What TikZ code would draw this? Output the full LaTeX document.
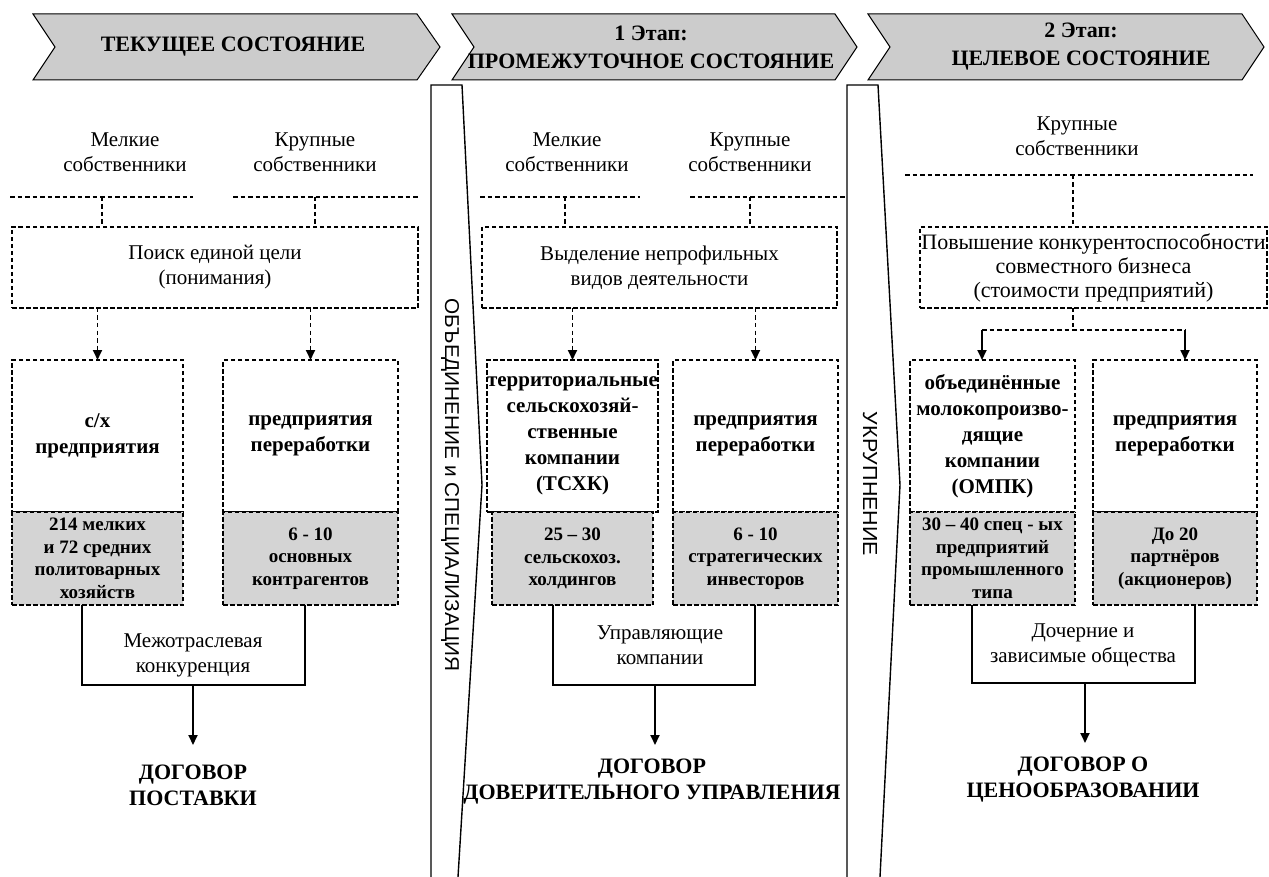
\documentclass[tikz,border=0pt]{standalone}
\usepackage{fontspec}
\setmainfont{Liberation Serif}
\setsansfont{Liberation Sans}
\usetikzlibrary{arrows.meta,calc}
\tikzset{
  every node/.style={outer sep=0pt, inner sep=0pt},
  dbox/.style={draw, dash pattern=on 4.5pt off 2.5pt, line width=1.8pt, align=center,
    font=\bfseries\fontsize{21}{26}\selectfont},
  gbox/.style={dbox, fill=black!17, font=\bfseries\fontsize{19}{22.5}\selectfont},
  tbox/.style={draw, dash pattern=on 4.5pt off 2.5pt, line width=1.6pt, align=center,
    font=\fontsize{21}{25}\selectfont},
  lbl/.style={align=center, font=\fontsize{21}{25}\selectfont},
  big/.style={align=center, font=\bfseries\fontsize{22}{26}\selectfont},
  head/.style={align=center, font=\bfseries\fontsize{22}{28}\selectfont},
  dline/.style={dash pattern=on 4.5pt off 3pt, line width=1.2pt},
  darr/.style={dash pattern=on 4.5pt off 3pt, line width=1.8pt, -{Triangle[length=10pt,width=9pt]}},
  sarr/.style={line width=1.8pt, -{Triangle[length=10pt,width=9pt]}},
  sline/.style={line width=1.4pt},
  chev/.style={draw, fill=black!20, line width=1pt},
  band/.style={line width=1.4pt},
}
\begin{document}
\begin{tikzpicture}[x=1pt,y=-1pt]
\useasboundingbox (0,0) rectangle (1269,877);
\fill[white] (0,0) rectangle (1269,877);

% ---------- header chevrons ----------
\path[chev] (33,14) -- (417,14) -- (440,47) -- (417,80) -- (33,80) -- (55,47) -- cycle;
\node[head] (h1) at (233,47) {ТЕКУЩЕЕ СОСТОЯНИЕ};
\path[chev] (452,14) -- (835,14) -- (857,47) -- (835,80) -- (452,80) -- (474,47) -- cycle;
\node[head] (h2) at (651,47) {1 Этап:\\ПРОМЕЖУТОЧНОЕ СОСТОЯНИЕ};
\path[chev] (868,14) -- (1242,14) -- (1264,47) -- (1242,80) -- (868,80) -- (890,47) -- cycle;
\node[head] (h3) at (1081,47) {2 Этап:\\ЦЕЛЕВОЕ СОСТОЯНИЕ};

% ---------- separator bands ----------
\draw[band] (431,877) -- (431,85) -- (462,85) -- (482,485) -- (458,877);
\node[rotate=-90] (s1) at (450,485) {\resizebox{373pt}{14pt}{\sffamily ОБЪЕДИНЕНИЕ и СПЕЦИАЛИЗАЦИЯ}};
\draw[band] (847,877) -- (847,85) -- (878,85) -- (900,485) -- (880,877);
\node[rotate=-90] (s2) at (870,484) {\resizebox{144pt}{14pt}{\sffamily УКРУПНЕНИЕ}};

% ================= column 1 =================
\node[lbl] (t1a) at (125,152.5) {Мелкие\\собственники};
\node[lbl] (t1b) at (315,152.5) {Крупные\\собственники};
\coordinate (l1a) at (10,197); \coordinate (l1b) at (193,197);
\coordinate (l1c) at (233,197); \coordinate (l1d) at (420,197);
\draw[dline] (l1a) -- (l1b);
\draw[dline] (l1c) -- (l1d);
\node[tbox, minimum width=406, minimum height=81] (p1) at (215,267.5) {Поиск единой цели\\(понимания)};
\coordinate (k1a) at (102,197); \coordinate (k1b) at (315,197);
\draw[dline] (k1a) -- (k1a |- p1.north);
\draw[dline] (k1b) -- (k1b |- p1.north);
\node[dbox, minimum width=171, minimum height=152] (b1) at (97.5,436) {с/х\\предприятия};
\node[dbox, minimum width=175, minimum height=152] (b2) at (310.5,436) {предприятия\\переработки};
\draw[darr] (p1.south -| b1.north) -- (b1.north);
\draw[darr] (p1.south -| b2.north) -- (b2.north);
\node[gbox, minimum width=171, minimum height=93, anchor=north] (g1) at (b1.south) {214 мелких\\и 72 средних\\политоварных\\хозяйств};
\node[gbox, minimum width=175, minimum height=93, anchor=north] (g2) at (b2.south) {6 - 10\\основных\\контрагентов};
\coordinate (o1a) at (82,685); \coordinate (o1b) at (305,685); \coordinate (o1c) at (193,685);
\draw[sline] (g1.south -| o1a) -- (o1a) -- (o1b) -- (g2.south -| o1b);
\node[lbl] (m1) at (193,655) {Межотраслевая\\конкуренция};
\node[big] (d1) at (193,785) {ДОГОВОР\\ПОСТАВКИ};
\coordinate (e1) at (193,745);
\draw[sarr] (o1c) -- (e1);

% ================= column 2 =================
\node[lbl] (t2a) at (567,152.5) {Мелкие\\собственники};
\node[lbl] (t2b) at (750,152.5) {Крупные\\собственники};
\coordinate (l2a) at (480,197); \coordinate (l2b) at (640,197);
\coordinate (l2c) at (690,197); \coordinate (l2d) at (845,197);
\draw[dline] (l2a) -- (l2b);
\draw[dline] (l2c) -- (l2d);
\node[tbox, minimum width=355, minimum height=81] (p2) at (659.5,267.5) {Выделение непрофильных\\видов деятельности};
\coordinate (k2a) at (565,197); \coordinate (k2b) at (750,197);
\draw[dline] (k2a) -- (k2a |- p2.north);
\draw[dline] (k2b) -- (k2b |- p2.north);
\node[dbox, minimum width=161, minimum height=152] (b3) at (572.5,436) {территориальные\\сельскохозяй-\\ственные\\компании\\(ТСХК)};
\node[dbox, minimum width=165, minimum height=152] (b4) at (755.5,436) {предприятия\\переработки};
\draw[darr] (p2.south -| b3.north) -- (b3.north);
\draw[darr] (p2.south -| b4.north) -- (b4.north);
\node[gbox, minimum width=161, minimum height=93, anchor=north] (g3) at (b3.south) {25 – 30\\сельскохоз.\\холдингов};
\node[gbox, minimum width=165, minimum height=93, anchor=north] (g4) at (b4.south) {6 - 10\\стратегических\\инвесторов};
\coordinate (o2a) at (553,685); \coordinate (o2b) at (755,685); \coordinate (o2c) at (655,685);
\draw[sline] (g3.south -| o2a) -- (o2a) -- (o2b) -- (g4.south -| o2b);
\node[lbl] (m2) at (660,645) {Управляющие\\компании};
\node[big] (d2) at (652,782) {ДОГОВОР\\ДОВЕРИТЕЛЬНОГО УПРАВЛЕНИЯ};
\coordinate (e2) at (655,745);
\draw[sarr] (o2c) -- (e2);

% ================= column 3 =================
\node[lbl] (t3) at (1077,136) {Крупные\\собственники};
\coordinate (l3a) at (905,175); \coordinate (l3b) at (1253,175);
\draw[dline] (l3a) -- (l3b);
\node[tbox, minimum width=347, minimum height=81, font=\fontsize{22}{24}\selectfont] (p3) at (1093.5,267.5) {Повышение конкурентоспособности\\совместного бизнеса\\(стоимости предприятий)};
\coordinate (k3) at (1073,175);
\draw[dline] (k3) -- (k3 |- p3.north);
\node[dbox, minimum width=165, minimum height=152] (b5) at (992.5,436) {объединённые\\молокопроизво-\\дящие\\компании\\(ОМПК)};
\node[dbox, minimum width=164, minimum height=152] (b6) at (1175,436) {предприятия\\переработки};
\coordinate (j3) at (1073,330); \coordinate (j3a) at (982,330); \coordinate (j3b) at (1185,330);
\draw[dline] (k3 |- p3.south) -- (j3);
\draw[dline] (j3a) -- (j3b);
\draw[sarr] (j3a) -- (j3a |- b5.north);
\draw[sarr] (j3b) -- (j3b |- b6.north);
\node[gbox, minimum width=165, minimum height=93, anchor=north] (g5) at (b5.south) {30 – 40 спец - ых\\предприятий\\промышленного\\типа};
\node[gbox, minimum width=164, minimum height=93, anchor=north] (g6) at (b6.south) {До 20\\партнёров\\(акционеров)};
\coordinate (o3a) at (972,683); \coordinate (o3b) at (1195,683); \coordinate (o3c) at (1085,683);
\draw[sline] (g5.south -| o3a) -- (o3a) -- (o3b) -- (g6.south -| o3b);
\node[lbl] (m3) at (1083,645) {Дочерние и\\зависимые общества};
\node[big] (d3) at (1083,780) {ДОГОВОР О\\ЦЕНООБРАЗОВАНИИ};
\coordinate (e3) at (1085,743);
\draw[sarr] (o3c) -- (e3);
\end{tikzpicture}
\end{document}
